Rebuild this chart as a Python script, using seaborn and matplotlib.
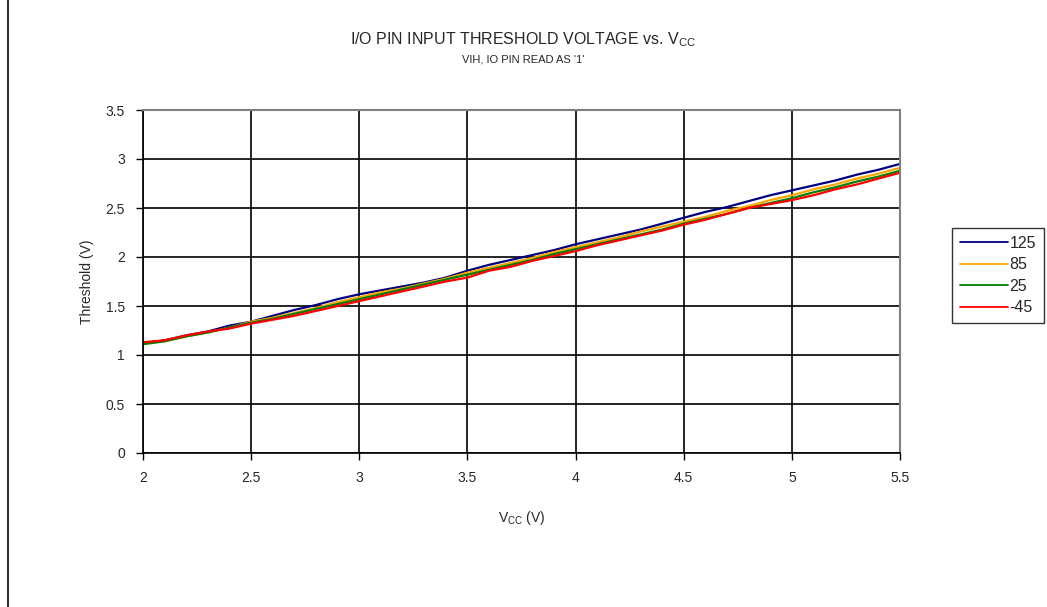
import numpy as np
import pandas as pd
import matplotlib
matplotlib.use("Agg")
import matplotlib.pyplot as plt
import seaborn as sns
from matplotlib.lines import Line2D

vcc = [2.0, 2.1, 2.2, 2.3, 2.4, 2.5, 2.6, 2.7, 2.8, 2.9, 3.0, 3.1, 3.2, 3.3, 3.4, 3.5,
       3.6, 3.7, 3.8, 3.9, 4.0, 4.1, 4.2, 4.3, 4.4, 4.5, 4.6, 4.7, 4.8, 4.9, 5.0, 5.1,
       5.2, 5.3, 5.4, 5.5]
t125 = [1.12, 1.15, 1.20, 1.24, 1.30, 1.34, 1.40, 1.46, 1.51, 1.57, 1.62, 1.66, 1.70, 1.74,
        1.79, 1.86, 1.92, 1.97, 2.02, 2.07, 2.13, 2.18, 2.23, 2.28, 2.34, 2.40, 2.46, 2.51,
        2.57, 2.63, 2.68, 2.73, 2.78, 2.84, 2.89, 2.95]
t85 = [1.12, 1.14, 1.19, 1.23, 1.28, 1.34, 1.38, 1.43, 1.48, 1.54, 1.59, 1.64, 1.68, 1.73,
       1.78, 1.84, 1.89, 1.94, 1.99, 2.05, 2.10, 2.15, 2.20, 2.26, 2.31, 2.36, 2.41, 2.47,
       2.52, 2.58, 2.63, 2.69, 2.74, 2.80, 2.85, 2.91]
t25 = [1.11, 1.14, 1.19, 1.23, 1.28, 1.33, 1.37, 1.42, 1.47, 1.52, 1.57, 1.62, 1.67, 1.72,
       1.77, 1.82, 1.87, 1.92, 1.97, 2.03, 2.08, 2.13, 2.18, 2.23, 2.28, 2.34, 2.39, 2.44,
       2.50, 2.55, 2.60, 2.66, 2.71, 2.77, 2.82, 2.88]
tm45 = [1.13, 1.15, 1.20, 1.24, 1.27, 1.32, 1.36, 1.40, 1.45, 1.50, 1.55, 1.60, 1.65, 1.70,
        1.75, 1.79, 1.86, 1.90, 1.96, 2.01, 2.06, 2.12, 2.17, 2.22, 2.27, 2.33, 2.38, 2.44,
        2.50, 2.54, 2.58, 2.63, 2.69, 2.74, 2.80, 2.86]
series_names = ["125", "85", "25", "-45"]
colors = ["#000080", "#FFA500", "#008000", "#FF0000"]
x_ticks = [2, 2.5, 3, 3.5, 4, 4.5, 5, 5.5]
y_ticks = [0, 0.5, 1, 1.5, 2, 2.5, 3, 3.5]

frames = []
for name, vals in zip(series_names, [t125, t85, t25, tm45]):
    frames.append(pd.DataFrame({"Vcc": vcc, "Threshold": vals, "Temp": name}))
df = pd.concat(frames, ignore_index=True)

sns.set_theme(style="white")
plt.rcParams['font.family'] = ['Liberation Sans', 'DejaVu Sans']

fig = plt.figure(figsize=(10.47, 6.07), dpi=100)
ax = fig.add_axes([143/1047, 1 - 453/607, (900-143)/1047, (453-110)/607])

sns.lineplot(data=df, x="Vcc", y="Threshold", hue="Temp", hue_order=series_names,
             palette=colors, linewidth=1.6, ax=ax, legend=False)

ax.set_xlim(2, 5.5)
ax.set_ylim(0, 3.5)
ax.set_xticks(x_ticks)
ax.set_xticklabels([f"{t:g}" for t in x_ticks])
ax.set_yticks(y_ticks)
ax.set_yticklabels([f"{t:g}" for t in y_ticks])
ax.grid(True, color="black", linewidth=1.2)
ax.set_axisbelow(True)
ax.tick_params(axis="both", direction="out", length=5, width=1, color="black",
               labelsize=10, pad=8, left=True, bottom=True)
for s in ["left", "bottom"]:
    ax.spines[s].set_color("black")
    ax.spines[s].set_linewidth(1.2)
for s in ["top", "right"]:
    ax.spines[s].set_color("#808080")
    ax.spines[s].set_linewidth(1.5)

ax.set_xlabel(r"V$_{\mathregular{CC}}$ (V)", fontsize=10, labelpad=17)
ax.set_ylabel("Threshold (V)", fontsize=10, labelpad=8)

fig.text(523/1047, 1 - 40/607, r"I/O PIN INPUT THRESHOLD VOLTAGE vs. V$_{\mathregular{CC}}$",
         ha="center", va="center", fontsize=11.5)
fig.text(523/1047, 1 - 59/607, "VIH, IO PIN READ AS '1'", ha="center", va="center",
         fontsize=8)

handles = [Line2D([0], [0], color=c, linewidth=1.3) for c in colors]
leg = fig.legend(handles, series_names, loc="upper left",
                 bbox_to_anchor=(952/1047, 1 - 228/607), frameon=True, fancybox=False,
                 fontsize=11.5, handlelength=3.0, handletextpad=0.1, borderpad=0.5,
                 labelspacing=0.4, borderaxespad=0)
leg.get_frame().set_edgecolor("black")
leg.get_frame().set_linewidth(1)

fig.add_artist(Line2D([8/1047, 8/1047], [0, 1], transform=fig.transFigure,
                      color="#333333", linewidth=1.5))

fig.savefig("out.png", dpi=100, facecolor="white")
